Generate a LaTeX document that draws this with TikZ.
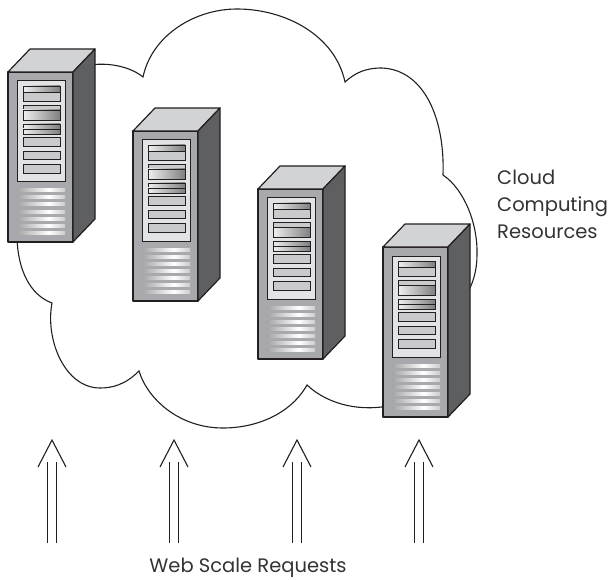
\documentclass[tikz,border=0pt]{standalone}
\usepackage{fontspec}
\setmainfont{Poppins}
\usetikzlibrary{calc}

\definecolor{ink}{HTML}{231F20}
\definecolor{frontgray}{HTML}{A7A9AC}
\definecolor{topgray}{HTML}{D1D3D4}
\definecolor{sidegray}{HTML}{5E5F61}
\definecolor{panelgray}{HTML}{E2E3E4}
\definecolor{slotgray}{HTML}{C9CACC}
\definecolor{textgray}{HTML}{333333}

% metallic strips on drive bays and vents
\pgfdeclarehorizontalshading{slotshade}{100bp}{color(0bp)=(black!45); color(18bp)=(white); color(100bp)=(black!72)}
\pgfdeclarehorizontalshading{ventshade}{100bp}{color(0bp)=(black!62); color(58bp)=(white); color(100bp)=(black!50)}

\tikzset{
  outline/.style={draw=ink, line width=1.2pt, line join=round},
  bay/.style={draw=ink, line width=0.8pt},
  cloudline/.style={draw=ink, line width=1.1pt},
  reqline/.style={draw=ink, line width=1.1pt},
  lbl/.style={text=textgray, inner sep=0pt, font=\fontsize{19.5}{27}\selectfont},
  pics/server/.style={code={
    % box faces
    \path[outline, fill=frontgray] (0,0) rectangle (65,170);
    \path[outline, fill=topgray] (0,0) -- (22,-23) -- (87,-23) -- (65,0) -- cycle;
    \path[outline, fill=sidegray] (65,0) -- (87,-23) -- (87,147) -- (65,170) -- cycle;
    % front panel with drive bays
    \path[draw=ink, line width=1pt, fill=panelgray] (9,9) rectangle (57,110);
    \path[bay, shading=slotshade] (15,14) rectangle (52,20);
    \path[bay, fill=slotgray] (15,20) rectangle (52,29);
    \path[bay, fill=slotgray] (15,33) rectangle (52,38);
    \path[bay, shading=slotshade] (15,38) rectangle (52,48);
    \path[bay, shading=slotshade] (15,52) rectangle (52,57);
    \path[bay, shading=slotshade] (15,57) rectangle (52,62);
    \path[bay, fill=slotgray] (15,65) rectangle (52,74);
    \path[bay, fill=slotgray] (15,79) rectangle (52,87);
    \path[bay, fill=slotgray] (15,92) rectangle (52,101);
    % ventilation slats
    \foreach \k in {0,...,6} {
      \shade[shading=ventshade] (9,117+7*\k) rectangle (57,120+7*\k);
    }
  }}
}

\begin{document}
\begin{tikzpicture}[x=1pt, y=-1pt]
  \useasboundingbox (0,0) rectangle (610,580);

  % cloud outline, upper edge
  \draw[cloudline]
    (90,65) .. controls (112,62) and (132,68) .. (143,77)
    .. controls (152,35) and (195,9) .. (237,9)
    .. controls (285,9) and (335,35) .. (345,82)
    .. controls (355,73) and (365,68) .. (382,68)
    .. controls (425,70) and (445,120) .. (443,175)
    .. controls (465,190) and (478,225) .. (477,255)
    .. controls (477,270) and (473,285) .. (465,297);
  % cloud outline, lower edge
  \draw[cloudline]
    (388,406) .. controls (355,412) and (325,402) .. (307,385)
    .. controls (290,415) and (255,428) .. (223,428)
    .. controls (180,428) and (148,400) .. (139,371)
    .. controls (125,385) and (112,388) .. (100,388)
    .. controls (65,388) and (45,340) .. (52,303)
    .. controls (30,295) and (18,270) .. (17,238);

  % servers
  \pic (srv1) at (8,72) {server};
  \pic (srv2) at (133,131) {server};
  \pic (srv3) at (258,189) {server};
  \pic (srv4) at (383,247) {server};

  % incoming requests
  \foreach \i/\x in {1/52,2/174,3/297,4/419} {
    \coordinate (req\i) at (\x,543);
    \coordinate (tip\i) at (\x,440);
    \draw[reqline] ($(req\i)+(-4.7,0)$) -- ($(tip\i)+(-4.7,22)$);
    \draw[reqline] ($(req\i)+(4.7,0)$) -- ($(tip\i)+(4.7,22)$);
    \draw[reqline] ($(tip\i)+(-14,27)$) -- (tip\i) -- ($(tip\i)+(14,27)$);
  }

  % labels
  \node[lbl, anchor=base west, align=left] (cloudlbl) at (497,238) {Cloud\\Computing\\Resources};
  \node[lbl, anchor=base] (reqlbl) at (248,572) {Web Scale Requests};
\end{tikzpicture}
\end{document}
